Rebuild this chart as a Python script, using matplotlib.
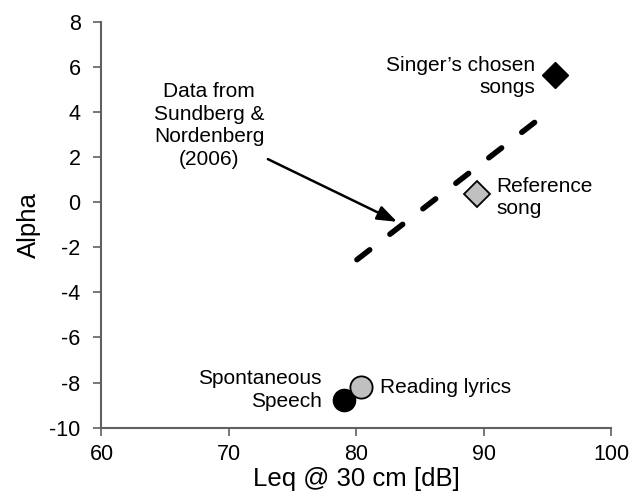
import matplotlib
matplotlib.use("Agg")
import matplotlib.pyplot as plt

plt.rcParams["font.family"] = ["Liberation Sans", "DejaVu Sans"]
plt.rcParams["axes.unicode_minus"] = False

# Data
speech_x, speech_y = [79.0], [-8.76]
lyrics_x, lyrics_y = [80.4], [-8.19]
ref_song_x, ref_song_y = [89.5], [0.35]
chosen_x, chosen_y = [95.6], [5.62]
sn_line_x = [80.05, 94.25]
sn_line_y = [-2.55, 3.65]

xticks = [60, 70, 80, 90, 100]
yticks = list(range(-10, 9, 2))

fig = plt.figure(figsize=(6.34, 4.95), dpi=100)
ax = fig.add_axes([0.160, 0.136, 0.804, 0.820])

# Sundberg & Nordenberg regression line
ax.plot(sn_line_x, sn_line_y, color="black", lw=4, dashes=(2.9, 4.6),
        solid_capstyle="round", dash_capstyle="round")

ax.plot(speech_x, speech_y, "o", ms=16, mfc="black", mec="black", zorder=3)
ax.plot(lyrics_x, lyrics_y, "o", ms=16, mfc="#c0c0c0", mec="black", mew=1.3, zorder=4)
ax.plot(ref_song_x, ref_song_y, "D", ms=13.5, mfc="#c0c0c0", mec="black", mew=1.3, zorder=3)
ax.plot(chosen_x, chosen_y, "D", ms=13.5, mfc="black", mec="black", zorder=3)

fs = 15
ls = 1.25
ax.text(77.3, -8.34, "Spontaneous\nSpeech", ha="right", va="center", fontsize=fs, linespacing=ls)
ax.text(81.85, -8.23, "Reading lyrics", ha="left", va="center", fontsize=fs)
ax.text(91.0, 0.21, "Reference\nsong", ha="left", va="center", fontsize=fs, linespacing=ls)
ax.text(94.0, 5.57, "Singer\u2019s chosen\nsongs", ha="right", va="center", fontsize=fs, linespacing=ls)
ax.text(68.45, 3.4, "Data from\nSundberg &\nNordenberg\n(2006)", ha="center", va="center",
        fontsize=fs, linespacing=ls)
ax.annotate("", xy=(83.2, -0.87), xytext=(73.06, 1.91),
            arrowprops=dict(arrowstyle="-|>,head_length=0.6,head_width=0.22",
                            color="black", lw=1.8, mutation_scale=20,
                            shrinkA=0, shrinkB=0))

ax.set_xlim(60, 100)
ax.set_ylim(-10, 8)
ax.set_xticks(xticks)
ax.set_yticks(yticks)
ax.tick_params(labelsize=15.5, direction="out", length=6, width=1.2, color="#606060")
ax.tick_params(axis="y", pad=9)
ax.tick_params(axis="x", pad=6)
ax.set_xlabel("Leq @ 30 cm [dB]", fontsize=18.5, labelpad=1)
ax.set_ylabel("Alpha", fontsize=18.5, labelpad=6)
for s in ["top", "right"]:
    ax.spines[s].set_visible(False)
for s in ["left", "bottom"]:
    ax.spines[s].set_color("#606060")
    ax.spines[s].set_linewidth(1.5)

fig.savefig("out.png", dpi=100)
